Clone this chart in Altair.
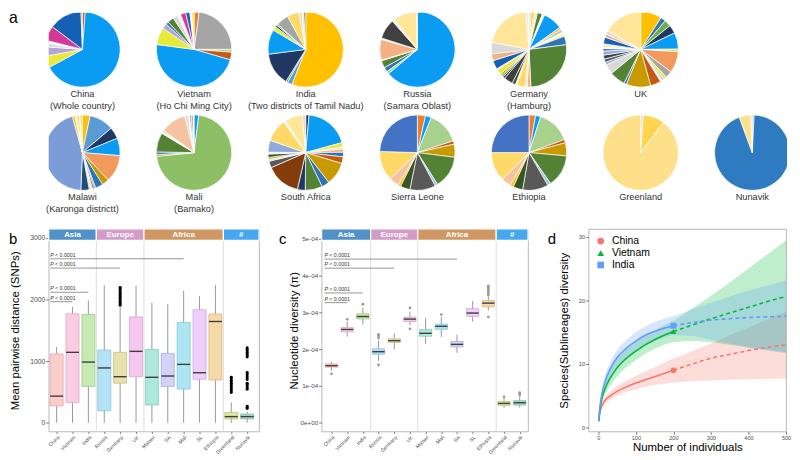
import math
import altair as alt
import pandas as pd

FONT = "Liberation Sans"

# ---------------- panel a : sublineage composition pies ----------------
PALETTE = {
    "sky": "#0A9CF2", "cobalt": "#1460B5", "navy": "#203864", "blue": "#2E75B6",
    "bluesteel": "#5B9BD5", "steel": "#4472C4", "ltsteel": "#8FAADC", "cornflower": "#7C9CD8",
    "deepnavy": "#1F4E79", "nunblue": "#2F7BC2", "ice": "#9DC3E6",
    "orange": "#ED7D31", "rust": "#C55A11", "brown": "#843C0C", "apricot": "#F29A5E",
    "salmon": "#F4B183", "peach": "#F6C3A0",
    "gold": "#FFC000", "ltgold": "#FFD966", "cream": "#FFE699", "sunflower": "#FFD54F", "pale": "#FFE08A",
    "mustard": "#C99A00", "yellow": "#E9E93A",
    "gray": "#A5A5A5", "ltgray": "#D9D9D9", "dkgray": "#595959", "charcoal": "#404040", "white": "#F4F4F4",
    "green": "#548235", "medgreen": "#70AD47", "ltgreen": "#A9D18E", "leaf": "#8DBF66", "dkgreen": "#375623",
    "magenta": "#D4399A", "lavender": "#B2A4D4", "pink": "#F4B6D2",
}

CHINA = [("rust", 1.2), ("sky", 65.5), ("yellow", 5), ("lavender", 4), ("ltgray", 1.7), ("white", 1),
         ("magenta", 6.4), ("cobalt", 14), ("gray", 0.6)]
VIETNAM = [("orange", 2.2), ("gray", 23), ("ltgreen", 1.2), ("rust", 3.3), ("sky", 48), ("yellow", 7.5),
           ("lavender", 2.2), ("blue", 1.2), ("green", 2.8), ("ltgray", 2.2), ("white", 1.3), ("magenta", 2.3),
           ("cobalt", 1.8), ("white", 0.8), ("yellow", 1)]
INDIA = [("gold", 55.5), ("bluesteel", 2), ("medgreen", 0.8), ("navy", 14), ("sky", 10.5), ("yellow", 1.7),
         ("navy", 0.8), ("medgreen", 0.6), ("gray", 5.3), ("ltgold", 5), ("ltgray", 1.2), ("cream", 0.9),
         ("green", 0.8)]
RUSSIA = [("sky", 63.9), ("ltgreen", 1.1), ("blue", 2), ("green", 3.1), ("white", 0.3), ("salmon", 8.9),
          ("white", 0.6), ("charcoal", 8.6), ("white", 1.1), ("cream", 10), ("ltgray", 0.4)]
GERMANY = [("ltgray", 1), ("gold", 1), ("cream", 1), ("ltgreen", 0.5), ("green", 2), ("white", 1), ("sky", 8),
           ("salmon", 1), ("ltgreen", 1.2), ("white", 0.8), ("cream", 1), ("blue", 3.5), ("green", 25),
           ("salmon", 1.5), ("ltgray", 0.8), ("ltgold", 3.5), ("white", 0.6), ("dkgreen", 1.4), ("charcoal", 3.6),
           ("navy", 0.8), ("medgreen", 0.8), ("mustard", 0.8), ("yellow", 2), ("pink", 0.6), ("cobalt", 3.6),
           ("salmon", 2.8), ("ltgray", 4.7), ("cream", 19.7), ("ltgray", 0.8), ("white", 0.5)]
UK = [("gold", 9), ("blue", 2.2), ("medgreen", 2.8), ("navy", 3.6), ("sky", 7), ("yellow", 1.1), ("apricot", 9),
      ("gray", 3), ("yellow", 1.4), ("ice", 0.8), ("white", 0.8), ("rust", 4.5), ("mustard", 10.3), ("blue", 1.1),
      ("green", 6.7), ("ltgray", 4.2), ("ltsteel", 1.1), ("dkgray", 1.4), ("charcoal", 1.7), ("ltsteel", 1.7),
      ("steel", 1.1), ("white", 0.6), ("yellow", 0.8), ("pink", 0.6), ("cobalt", 2.8), ("salmon", 1.4),
      ("ltgray", 1.4), ("cream", 16.7)]
MALAWI = [("gold", 3.3), ("bluesteel", 10.5), ("navy", 5), ("sky", 7.5), ("apricot", 11.7), ("mustard", 3),
          ("blue", 3.3), ("green", 0.6), ("dkgray", 0.8), ("salmon", 0.6), ("ltgray", 0.8), ("deepnavy", 3.6),
          ("cornflower", 45), ("gold", 1.1), ("cream", 0.8), ("ltgold", 1.1), ("white", 0.3), ("ltgold", 1)]
MALI = [("sky", 2), ("leaf", 71.4), ("mustard", 0.8), ("blue", 1.1), ("green", 8.3), ("white", 0.6),
        ("ltgray", 0.8), ("peach", 11), ("ltgray", 1.4), ("white", 0.6), ("gray", 0.8), ("orange", 0.8),
        ("white", 0.4)]
SOUTH_AFRICA = [("navy", 1.4), ("sky", 19), ("yellow", 1.9), ("ltgray", 0.8), ("salmon", 1.4), ("blue", 1.9),
                ("rust", 2.8), ("mustard", 9.7), ("blue", 3.3), ("green", 7.2), ("navy", 3.3), ("brown", 14.7),
                ("dkgray", 2.8), ("ltgray", 0.8), ("mustard", 0.8), ("dkgreen", 1.4), ("white", 0.8),
                ("ltsteel", 5), ("ltgold", 9.7), ("white", 0.8), ("cream", 7.5), ("ltgray", 1.4)]
SIERRA_LEONE = [("orange", 3.5), ("sky", 2.5), ("ltgreen", 14), ("rust", 1.4), ("mustard", 5.6), ("green", 14),
                ("ice", 1.2), ("dkgray", 11), ("dkgreen", 4.2), ("gold", 1.2), ("peach", 4.2), ("ltgold", 12.7),
                ("steel", 24.5)]
ETHIOPIA = [("orange", 2.8), ("sky", 2.2), ("ltgreen", 14.4), ("rust", 1.4), ("mustard", 5.6), ("green", 13.9),
            ("ice", 1.4), ("dkgray", 11), ("dkgreen", 4.2), ("gold", 1.4), ("peach", 4.2), ("ltgold", 12.5),
            ("steel", 25)]
GREENLAND = [("ltgray", 1.1), ("sunflower", 9.2), ("pale", 89.7)]
NUNAVIK = [("ltsteel", 0.8), ("nunblue", 93.6), ("pale", 5), ("ltgray", 0.6)]

PIE_ROW1 = ["China", "Vietnam", "India", "Russia", "Germany", "UK"]
PIE_ROW1_SUB = ["(Whole country)", "(Ho Chi Ming City)", "(Two districts of Tamil Nadu)", "(Samara Oblast)",
                "(Hamburg)", ""]
PIE_ROW2 = ["Malawi", "Mali", "South Africa", "Sierra Leone", "Ethiopia", "Greenland", "Nunavik"]
PIE_ROW2_SUB = ["(Karonga districtt)", "(Bamako)", "", "", "", "", ""]
PIE_SLICES = {"China": CHINA, "Vietnam": VIETNAM, "India": INDIA, "Russia": RUSSIA, "Germany": GERMANY,
              "UK": UK, "Malawi": MALAWI, "Mali": MALI, "South Africa": SOUTH_AFRICA,
              "Sierra Leone": SIERRA_LEONE, "Ethiopia": ETHIOPIA, "Greenland": GREENLAND, "Nunavik": NUNAVIK}

# ---------------- panel b : mean pairwise distance ----------------
B_CATS = ["China", "Vietnam", "India", "Russia", "Germany", "UK", "Malawi", "SA", "Mali", "SL", "Ethiopia",
          "Greenland", "Nunavik"]
B_LOW = [0, 0, 0, 0, 0, 0, 0, 0, 0, 0, 0, 0, 0]
B_Q1 = [274, 326, 589, 195, 642, 747, 289, 589, 547, 705, 695, 63, 63]
B_MED = [432, 1142, 984, 889, 747, 1158, 737, 758, 947, 811, 1642, 100, 100]
B_Q3 = [1116, 1768, 1758, 1179, 1142, 1716, 1189, 1126, 1626, 1832, 1763, 168, 142]
B_HIGH = [1231, 1879, 1984, 2231, 1870, 2221, 1947, 1921, 2142, 2053, 2232, 330, 175]
B_OUT_GERMANY = [1905, 1930, 1955, 1980, 2005, 2030, 2055, 2080, 2105, 2130, 2155, 2180, 2195]
B_OUT_GREENLAND = [490, 515, 540, 565, 590, 615, 640, 665, 690, 715, 740]
B_OUT_NUNAVIK = [230, 250, 270, 545, 570, 595, 620, 640, 700, 730, 760, 790, 815,
                 1065, 1090, 1115, 1140, 1165, 1190, 1215]
B_P_END = [8, 4, 2, 1]
B_P_Y = [2659, 2508, 2116, 1963]

# ---------------- panel c : nucleotide diversity ----------------
C_CATS = ["China", "Vietnam", "India", "Russia", "Germany", "UK", "Malawi", "Mali", "SA", "SL", "Ethiopia",
          "Greenland", "Nunavik"]
C_LOW = [1.42e-4, 2.34e-4, 2.67e-4, 1.68e-4, 1.99e-4, 2.65e-4, 2.14e-4, 2.33e-4, 1.90e-4, 2.75e-4, 3.05e-4,
         0.41e-4, 0.41e-4]
C_Q1 = [1.51e-4, 2.47e-4, 2.82e-4, 1.86e-4, 2.18e-4, 2.75e-4, 2.35e-4, 2.54e-4, 2.06e-4, 2.89e-4, 3.15e-4,
        0.47e-4, 0.48e-4]
C_MED = [1.55e-4, 2.535e-4, 2.886e-4, 1.93e-4, 2.23e-4, 2.816e-4, 2.43e-4, 2.62e-4, 2.13e-4, 2.98e-4, 3.25e-4,
         0.526e-4, 0.544e-4]
C_Q3 = [1.60e-4, 2.59e-4, 2.96e-4, 2.01e-4, 2.28e-4, 2.87e-4, 2.53e-4, 2.68e-4, 2.21e-4, 3.10e-4, 3.32e-4,
        0.58e-4, 0.60e-4]
C_HIGH = [1.66e-4, 2.74e-4, 3.13e-4, 2.24e-4, 2.43e-4, 3.02e-4, 2.85e-4, 2.87e-4, 2.39e-4, 3.31e-4, 3.45e-4,
          0.66e-4, 0.72e-4]
C_OUT_NAMES = ["China", "Vietnam", "India", "Russia", "Russia", "Russia", "Russia", "UK", "UK", "Mali",
               "Ethiopia", "Ethiopia", "Ethiopia", "Ethiopia", "Ethiopia", "Ethiopia", "Ethiopia",
               "Greenland", "Nunavik", "Nunavik", "Nunavik"]
C_OUT_VALUES = [1.33e-4, 2.81e-4, 3.22e-4, 2.30e-4, 2.36e-4, 2.40e-4, 1.57e-4, 3.12e-4, 2.55e-4, 2.94e-4,
                3.48e-4, 3.53e-4, 3.58e-4, 3.63e-4, 3.68e-4, 3.72e-4, 2.87e-4,
                0.70e-4, 0.76e-4, 0.79e-4, 0.82e-4]
C_P_END = [8, 4, 2, 1]
C_P_Y = [4.447e-4, 4.20e-4, 3.526e-4, 3.263e-4]
C_TICKS = [0, 1e-4, 2e-4, 3e-4, 4e-4, 5e-4]
C_TICK_LABELS = ["0e+00", "1e-04", "2e-04", "3e-04", "4e-04", "5e-04"]

REGIONS = ["Asia", "Europe", "Africa", "#"]
REGION_SIZES = [3, 3, 5, 2]
REGION_COLORS = ["#5091C8", "#D39BC8", "#CF9862", "#45A8F0"]

BOX_FILL = {"China": "#F9CECA", "Vietnam": "#F9CDE3", "India": "#C7E9B4", "Russia": "#B4E2F6",
            "Germany": "#E7E1AC", "UK": "#F6C8F0", "Malawi": "#AEE7DC", "SA": "#D3D3F7", "Mali": "#ADE6F2",
            "SL": "#EDD0F8", "Ethiopia": "#F5DAA9", "Greenland": "#DDE6A6", "Nunavik": "#A9DECE"}
BOX_EDGE = {"China": "#E3ABA6", "Vietnam": "#E2A9C6", "India": "#9FCB87", "Russia": "#8AC6E0",
            "Germany": "#C8C084", "UK": "#DCA2D4", "Malawi": "#84CBBD", "SA": "#ABABDD", "Mali": "#84CADA",
            "SL": "#D0A8E2", "Ethiopia": "#DCB882", "Greenland": "#BBC97C", "Nunavik": "#7FC1AC"}

# ---------------- panel d : rarefaction / extrapolation ----------------
D_SERIES = ["China", "Vietnam", "India"]
D_COLORS = ["#F8766D", "#00BA38", "#619CFF"]
D_SHAPES = ["circle", "triangle-up", "square"]
D_X_OBS = [1, 5, 10, 20, 30, 50, 75, 100, 125, 150, 175, 200]
D_X_EXT = [200, 250, 300, 350, 400, 450, 500]
D_X_BAND = [1, 5, 10, 20, 30, 50, 75, 100, 125, 150, 175, 200, 250, 300, 350, 400, 450, 500]
D_CHINA_OBS = [1, 2.6, 3.5, 4.4, 4.9, 5.7, 6.4, 7.0, 7.5, 8.0, 8.5, 9.0]
D_VIETNAM_OBS = [1, 3.2, 4.7, 6.4, 7.6, 9.4, 10.9, 12.0, 13.0, 13.8, 14.5, 15.1]
D_INDIA_OBS = [1, 3.6, 5.4, 7.6, 9.0, 11.0, 12.5, 13.6, 14.5, 15.1, 15.6, 16.0]
D_CHINA_EXT = [9.0, 10.0, 10.9, 11.5, 12.1, 12.6, 13.0]
D_VIETNAM_EXT = [15.1, 16.1, 17.1, 18.0, 18.9, 19.8, 20.6]
D_INDIA_EXT = [16.0, 16.5, 16.9, 17.1, 17.3, 17.4, 17.5]
D_CHINA_LO = [1, 2.3, 3.0, 3.8, 4.3, 5.0, 5.6, 6.0, 6.4, 6.7, 6.9, 7.1, 7.3, 7.4, 7.5, 7.6, 7.65, 7.7]
D_CHINA_HI = [1, 2.9, 4.0, 5.0, 5.6, 6.5, 7.4, 8.1, 8.8, 9.5, 10.2, 10.8, 12.0, 13.2, 14.5, 15.7, 17.0, 18.2]
D_VIETNAM_LO = [1, 2.9, 4.0, 5.4, 6.4, 8.0, 9.5, 10.6, 11.6, 12.4, 13.0, 13.4, 13.6, 13.4, 13.0, 12.6, 12.2, 11.8]
D_VIETNAM_HI = [1, 3.6, 5.4, 7.4, 8.8, 10.8, 12.3, 13.5, 14.5, 15.3, 16.1, 16.8, 18.7, 20.7, 22.8, 25.0, 27.2, 29.4]
D_INDIA_LO = [1, 3.2, 4.8, 6.6, 7.9, 9.8, 11.1, 12.1, 12.9, 13.6, 14.1, 14.5, 14.4, 13.8, 13.2, 12.6, 12.1, 11.7]
D_INDIA_HI = [1, 4.0, 6.0, 8.6, 10.1, 12.2, 13.8, 15.0, 15.9, 16.6, 17.1, 17.5, 18.6, 19.6, 20.6, 21.5, 22.3, 23.1]

INDEP = dict(color="independent", fill="independent", stroke="independent", shape="independent")
PANEL_H = 204


# =====================================================================
def pies_chart():
    rows, labels = [], []
    for r, (names, subs) in enumerate([(PIE_ROW1, PIE_ROW1_SUB), (PIE_ROW2, PIE_ROW2_SUB)]):
        for c, (nm, sub) in enumerate(zip(names, subs)):
            for i, (k, s) in enumerate(PIE_SLICES[nm]):
                rows.append({"pie": nm, "row": r, "col": c, "idx": i, "key": k, "share": s})
            labels.append({"pie": nm, "row": r, "col": c, "label": nm + ("\n" + sub if sub else "")})
    df = pd.DataFrame(rows)
    lab = pd.DataFrame(labels)
    # view spans 744 px (aligned with the lower panels' plot origin), pie columns every 112.5 px
    xs = alt.Scale(domain=[-0.30222, 6.31111], nice=False, zero=False)
    ys = alt.Scale(domain=[-0.35577, 1.64423], nice=False, zero=False, reverse=True)
    arcs = (
        alt.Chart(df)
        .transform_joinaggregate(total="sum(share)", groupby=["pie"])
        .transform_window(cum="sum(share)", groupby=["pie"], sort=[alt.SortField("idx")], frame=[None, 0])
        .transform_calculate(t0="(datum.cum - datum.share) / datum.total", t1="datum.cum / datum.total")
        .mark_arc(outerRadius=38, stroke="white", strokeWidth=0.7, clip=True)
        .encode(
            x=alt.X("col:Q", scale=xs, axis=None),
            y=alt.Y("row:Q", scale=ys, axis=None),
            theta=alt.Theta("t0:Q", scale=alt.Scale(domain=[0, 1], range=[0, 2 * math.pi]), stack=False),
            theta2="t1:Q",
            color=alt.Color("key:N", scale=alt.Scale(domain=list(PALETTE), range=list(PALETTE.values())),
                            legend=None),
        )
    )
    text = alt.Chart(lab).mark_text(lineBreak="\n", baseline="top", dy=41, fontSize=9.3, lineHeight=12,
                                    color="#333333").encode(
        x=alt.X("col:Q", scale=xs, axis=None), y=alt.Y("row:Q", scale=ys, axis=None), text="label:N")
    letter = alt.Chart(pd.DataFrame({"t": ["a"]})).mark_text(fontSize=16, align="left", baseline="alphabetic",
                                                             color="black").encode(
        text="t:N", x=alt.value(-40), y=alt.value(10.5))
    return alt.layer(arcs, text, letter).properties(width=744, height=208)


def box_panel(cats, lo, q1, med, q3, hi, out_names, out_vals, p_end, p_y, p_start, xdom, ydom, yticks,
              ylabel_expr, ytitle, title_pad, ylab_size, letter, letter_x, width, half, out_color, out_size):
    n = len(cats)
    idx = list(range(n))
    box_df = pd.DataFrame(dict(idx=idx, name=cats, lo=lo, q1=q1, med=med, q3=q3, hi=hi))
    pos = {c: i for i, c in enumerate(cats)}
    out_df = pd.DataFrame({"idx": [pos[o] for o in out_names], "v": out_vals})
    bnds = []
    acc = 0
    for s in REGION_SIZES[:-1]:
        acc += s
        bnds.append(acc - 0.5)
    starts = [xdom[0]] + bnds
    ends = bnds + [xdom[1]]
    strip_df = pd.DataFrame({"region": REGIONS, "start": starts, "end": ends,
                             "mid": [(a + b) / 2 for a, b in zip(starts, ends)]})
    sep_df = pd.DataFrame({"sep": bnds})
    p_df = pd.DataFrame({"start": [p_start] * len(p_end), "end": p_end, "py": p_y})

    xs = alt.Scale(domain=xdom, nice=False, zero=False)
    ys = alt.Scale(domain=ydom, nice=False, zero=False)
    expr = "[" + ",".join("'%s'" % c for c in cats) + "][datum.value]"
    xaxis = alt.Axis(values=idx, labelExpr=expr, labelAngle=-45, labelFontSize=5.1, labelColor="#4d4d4d",
                     tickSize=2, tickColor="#7f7f7f", labelPadding=1, domain=False, grid=False, title=None,
                     labelOverlap=False, labelFlush=False)
    yaxis = alt.Axis(values=yticks, labelExpr=ylabel_expr, labelFontSize=ylab_size, labelColor="#4d4d4d",
                     tickSize=3, tickColor="#7f7f7f", labelPadding=1, domain=False, grid=False,
                     title=ytitle, titleFontSize=11.5, titleFontWeight="normal", titleColor="black",
                     titlePadding=title_pad, labelFlush=False, labelOverlap=False)

    def X(f):
        return alt.X(f, scale=xs, axis=xaxis)

    def Y(f):
        return alt.Y(f, scale=ys, axis=yaxis)

    seps = alt.Chart(sep_df).mark_rule(color="#dedede", strokeWidth=1).encode(x=X("sep:Q"))
    whisk = alt.Chart(box_df).mark_rule(color="#8c8c8c", strokeWidth=0.9).encode(
        x=X("idx:Q"), y=Y("lo:Q"), y2="hi:Q")
    boxes = (
        alt.Chart(box_df)
        .transform_calculate(xl="datum.idx - %g" % half, xr="datum.idx + %g" % half)
        .mark_rect(strokeWidth=0.8)
        .encode(
            x=X("xl:Q"), x2="xr:Q", y=Y("q1:Q"), y2="q3:Q",
            fill=alt.Fill("name:N", scale=alt.Scale(domain=cats, range=[BOX_FILL[c] for c in cats]),
                          legend=None),
            stroke=alt.Stroke("name:N", scale=alt.Scale(domain=cats, range=[BOX_EDGE[c] for c in cats]),
                              legend=None),
        )
    )
    meds = (
        alt.Chart(box_df)
        .transform_calculate(xl="datum.idx - %g" % half, xr="datum.idx + %g" % half)
        .mark_rule(color="#3d3d3d", strokeWidth=1.4)
        .encode(x=X("xl:Q"), x2="xr:Q", y=Y("med:Q"))
    )
    outs = alt.Chart(out_df).mark_circle(size=out_size, color=out_color, opacity=1).encode(
        x=X("idx:Q"), y=Y("v:Q"))
    plines = alt.Chart(p_df).mark_rule(color="#7a7a7a", strokeWidth=0.8).encode(
        x=X("start:Q"), x2="end:Q", y=Y("py:Q"))
    pP = alt.Chart(p_df).mark_text(text="P", fontStyle="italic", fontSize=5.3, align="left",
                                   baseline="alphabetic", dy=-1.8, color="#333333").encode(
        x=X("start:Q"), y=Y("py:Q"))
    pR = alt.Chart(p_df).mark_text(text="< 0.0001", fontSize=5.3, align="left", baseline="alphabetic",
                                   dy=-1.8, dx=4.8, color="#333333").encode(
        x=X("start:Q"), y=Y("py:Q"))
    strips = alt.Chart(strip_df).mark_rect(stroke="white", strokeWidth=1.2).encode(
        x=X("start:Q"), x2="end:Q", y=alt.value(0), y2=alt.value(11.5),
        color=alt.Color("region:N", scale=alt.Scale(domain=REGIONS, range=REGION_COLORS), legend=None))
    strip_txt = alt.Chart(strip_df).mark_text(color="white", fontSize=8, fontWeight="bold").encode(
        x=X("mid:Q"), y=alt.value(6), text="region:N")
    let = alt.Chart(pd.DataFrame({"t": [letter]})).mark_text(fontSize=15, align="left", baseline="alphabetic",
                                                              color="black").encode(
        text="t:N", x=alt.value(letter_x), y=alt.value(15))
    return alt.layer(seps, whisk, boxes, meds, outs, plines, pP, pR, strips, strip_txt, let).properties(
        width=width, height=PANEL_H, view=alt.ViewBackground(stroke="#a8a8a8", strokeWidth=0.8))


def rare_panel():
    rib, obs, ext, pts = [], [], [], []
    data = {
        "China": (D_CHINA_OBS, D_CHINA_EXT, D_CHINA_LO, D_CHINA_HI),
        "Vietnam": (D_VIETNAM_OBS, D_VIETNAM_EXT, D_VIETNAM_LO, D_VIETNAM_HI),
        "India": (D_INDIA_OBS, D_INDIA_EXT, D_INDIA_LO, D_INDIA_HI),
    }
    for s in D_SERIES:
        o, e, l, h = data[s]
        for x, a, b in zip(D_X_BAND, l, h):
            rib.append({"country": s, "x": x, "lo": a, "hi": b})
        for x, y in zip(D_X_OBS, o):
            obs.append({"country": s, "x": x, "y": y})
        for x, y in zip(D_X_EXT, e):
            ext.append({"country": s, "x": x, "y": y})
        pts.append({"country": s, "x": D_X_OBS[-1], "y": o[-1]})
    rib_df, obs_df, ext_df = pd.DataFrame(rib), pd.DataFrame(obs), pd.DataFrame(ext)
    xs = alt.Scale(domain=[-26, 500], nice=False, zero=False)
    ys = alt.Scale(domain=[-0.61, 31.2], nice=False, zero=False)
    cs = alt.Scale(domain=D_SERIES, range=D_COLORS)
    xaxis = alt.Axis(values=[0, 100, 200, 300, 400, 500], labelFontSize=5.6, labelColor="#4d4d4d", tickSize=3,
                     tickColor="#7f7f7f", labelPadding=1, domain=False, grid=False, title="Number of individuals",
                     titleFontSize=11.5, titleFontWeight="normal", titleColor="black", titlePadding=1,
                     labelFlush=False)
    yaxis = alt.Axis(values=[0, 10, 20, 30], labelFontSize=5.8, labelColor="#4d4d4d", tickSize=3,
                     tickColor="#7f7f7f", labelPadding=1, domain=False, grid=False,
                     title="Species(Sublineages) diversity", titleFontSize=11.5, titleFontWeight="normal",
                     titleColor="black", titlePadding=9, labelFlush=False)

    def X(f):
        return alt.X(f, scale=xs, axis=xaxis)

    def Y(f):
        return alt.Y(f, scale=ys, axis=yaxis)

    layers = []
    for s, col in zip(D_SERIES, D_COLORS):
        layers.append(alt.Chart(rib_df).transform_filter(alt.datum.country == s)
                      .mark_area(opacity=0.25, interpolate="monotone", color=col)
                      .encode(x=X("x:Q"), y=Y("lo:Q"), y2="hi:Q"))
    for s, col in zip(D_SERIES, D_COLORS):
        layers.append(alt.Chart(obs_df).transform_filter(alt.datum.country == s)
                      .mark_line(strokeWidth=1.6, interpolate="monotone", color=col)
                      .encode(x=X("x:Q"), y=Y("y:Q")))
        layers.append(alt.Chart(ext_df).transform_filter(alt.datum.country == s)
                      .mark_line(strokeWidth=1.6, strokeDash=[4, 3], interpolate="monotone", color=col)
                      .encode(x=X("x:Q"), y=Y("y:Q")))
    leg = alt.Legend(orient="top-left", title=None, labelFontSize=10.5, labelColor="black", symbolSize=45,
                     offset=5, padding=2, rowPadding=1, labelOffset=6)
    layers.append(alt.Chart(pd.DataFrame(pts)).mark_point(filled=True, size=34, opacity=1).encode(
        x=X("x:Q"), y=Y("y:Q"),
        color=alt.Color("country:N", scale=cs, legend=leg),
        shape=alt.Shape("country:N", scale=alt.Scale(domain=D_SERIES, range=D_SHAPES), legend=leg)))
    layers.append(alt.Chart(pd.DataFrame({"t": ["d"]})).mark_text(fontSize=15, align="left", baseline="alphabetic",
                                                                   color="black").encode(
        text="t:N", x=alt.value(-41), y=alt.value(15)))
    return alt.layer(*layers).properties(
        width=199, height=PANEL_H, view=alt.ViewBackground(stroke="#a8a8a8", strokeWidth=0.8))


b_outn = ["Germany"] * len(B_OUT_GERMANY) + ["Greenland"] * len(B_OUT_GREENLAND) + ["Nunavik"] * len(B_OUT_NUNAVIK)
b_outv = B_OUT_GERMANY + B_OUT_GREENLAND + B_OUT_NUNAVIK

panel_b = box_panel(B_CATS, B_LOW, B_Q1, B_MED, B_Q3, B_HIGH, b_outn, b_outv, B_P_END, B_P_Y, -0.4,
                    [-0.5, 12.75], [-141, 3141], [0, 1000, 2000, 3000], "datum.value",
                    "Mean pairwise distance (SNPs)", 9, 6.8, "b", -40, 212, 0.41, "black", 9)
c_expr = "[" + ",".join("'%s'" % t for t in C_TICK_LABELS) + "][round(datum.value * 10000)]"
panel_c = box_panel(C_CATS, C_LOW, C_Q1, C_MED, C_Q3, C_HIGH, C_OUT_NAMES, C_OUT_VALUES, C_P_END, C_P_Y, -0.44,
                    [-0.63, 12.53], [-0.237e-4, 5.263e-4], C_TICKS, c_expr,
                    "Nucleotide diversity (\u03c0)", 1, 6.3, "c", -43, 208, 0.39, "#9a9a9a", 8)
panel_d = rare_panel()

row = alt.hconcat(panel_b, panel_c, panel_d, spacing=18).resolve_scale(**INDEP)
chart = (
    alt.vconcat(pies_chart(), row, spacing=8)
    .resolve_scale(**INDEP)
    .properties(padding=0)
    .configure(font=FONT)
    .configure_view(stroke="transparent")
)

chart.save("out.html", embed_options={"renderer": "svg", "actions": False})
